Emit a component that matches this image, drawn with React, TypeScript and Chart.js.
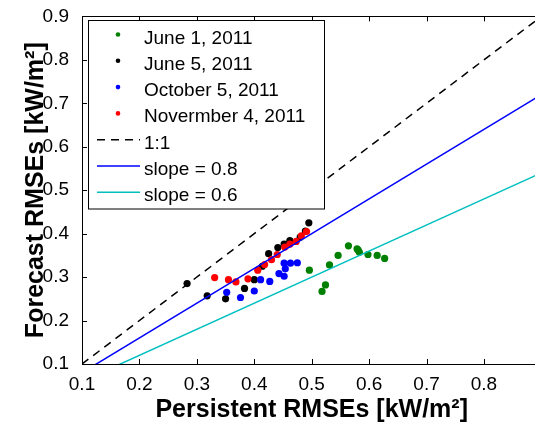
import { useEffect, useRef } from 'react';
import { Chart, registerables } from 'chart.js';

Chart.register(...registerables);

// ---- data ----
const seriesLabels = ['June 1, 2011', 'June 5, 2011', 'October 5, 2011', 'Novermber 4, 2011'];
const seriesColors = ['#008000', '#000000', '#0000ff', '#ff0000'];

const june1X = [0.455, 0.496, 0.518, 0.524, 0.531, 0.546, 0.564, 0.579, 0.581, 0.583, 0.598, 0.614, 0.627];
const june1Y = [0.375, 0.316, 0.267, 0.282, 0.328, 0.350, 0.372, 0.365, 0.362, 0.357, 0.352, 0.350, 0.343];

const june5X = [0.283, 0.318, 0.350, 0.383, 0.400, 0.414, 0.425, 0.441, 0.452, 0.462, 0.480, 0.489, 0.495];
const june5Y = [0.285, 0.257, 0.250, 0.274, 0.294, 0.325, 0.354, 0.368, 0.376, 0.384, 0.392, 0.406, 0.425];

const oct5X = [0.352, 0.376, 0.400, 0.411, 0.427, 0.443, 0.452, 0.454, 0.452, 0.463, 0.475];
const oct5Y = [0.265, 0.253, 0.268, 0.294, 0.290, 0.308, 0.302, 0.319, 0.332, 0.332, 0.333];

const nov4X = [0.331, 0.355, 0.368, 0.389, 0.406, 0.418, 0.430, 0.440, 0.453, 0.462, 0.473, 0.482, 0.491];
const nov4Y = [0.299, 0.294, 0.289, 0.296, 0.316, 0.329, 0.340, 0.352, 0.369, 0.376, 0.382, 0.395, 0.405];

const refLineLabels = ['1:1', 'slope = 0.8', 'slope = 0.6'];
const refLineSlopes = [1, 0.8, 0.6];
const refLineColors = ['#000000', '#0000ff', '#00bfbf'];

const axisMin = 0.1;
const axisMax = 0.9;
const xTickValues = [0.1, 0.2, 0.3, 0.4, 0.5, 0.6, 0.7, 0.8];
const yTickValues = [0.1, 0.2, 0.3, 0.4, 0.5, 0.6, 0.7, 0.8, 0.9];

const xTitle = 'Persistent RMSEs [kW/m²]';
const yTitle = 'Forecast RMSEs [kW/m²]';

const FONT = "'Liberation Sans', Arial, Helvetica, sans-serif";

const toPoints = (xs: number[], ys: number[]) => xs.map((x, i) => ({ x, y: ys[i] }));

const overlayPlugin = {
  id: 'matlabOverlay',
  afterDraw(chart: any) {
    const { ctx, chartArea, scales } = chart;
    const { left, right, top, bottom } = chartArea;
    ctx.save();
    ctx.strokeStyle = '#000';
    ctx.lineWidth = 1;
    // top border
    ctx.beginPath();
    ctx.moveTo(left, Math.round(top) + 0.5);
    ctx.lineTo(right, Math.round(top) + 0.5);
    ctx.stroke();
    // inward ticks
    const tl = 5;
    ctx.beginPath();
    xTickValues.forEach((v) => {
      const px = Math.round(scales.x.getPixelForValue(v)) + 0.5;
      ctx.moveTo(px, bottom);
      ctx.lineTo(px, bottom - tl);
      ctx.moveTo(px, top);
      ctx.lineTo(px, top + tl);
    });
    yTickValues.forEach((v) => {
      const py = Math.round(scales.y.getPixelForValue(v)) + 0.5;
      ctx.moveTo(left, py);
      ctx.lineTo(left + tl, py);
    });
    ctx.stroke();

    // legend box
    const bx = 88.5, by = 20.5, bw = 236, bh = 188.5;
    ctx.fillStyle = '#fff';
    ctx.fillRect(bx, by, bw, bh);
    ctx.strokeRect(bx, by, bw, bh);
    const ds = chart.data.datasets;
    ctx.font = `19px ${FONT}`;
    ctx.textBaseline = 'alphabetic';
    ctx.textAlign = 'left';
    ds.forEach((d: any, i: number) => {
      const base = 43.5 + 26.3 * i;
      const my = base - 9;
      if (d.legendKind === 'marker') {
        ctx.fillStyle = d.backgroundColor;
        ctx.beginPath();
        ctx.arc(118, my, 2.3, 0, Math.PI * 2);
        ctx.fill();
      } else {
        ctx.strokeStyle = d.borderColor;
        ctx.lineWidth = 1.5;
        ctx.setLineDash(d.borderDash || []);
        ctx.beginPath();
        ctx.moveTo(97, my);
        ctx.lineTo(140, my);
        ctx.stroke();
        ctx.setLineDash([]);
      }
      ctx.fillStyle = '#000';
      ctx.fillText(d.label, 144, base);
    });
    ctx.restore();
  },
};

export default function App() {
  const ref = useRef<HTMLCanvasElement | null>(null);

  useEffect(() => {
    document.body.style.margin = '0';
    if (!ref.current) return;
    const seriesX = [june1X, june5X, oct5X, nov4X];
    const seriesY = [june1Y, june5Y, oct5Y, nov4Y];
    const scatterSets = seriesLabels.map((label, i) => ({
      type: 'scatter' as const,
      label,
      legendKind: 'marker',
      data: toPoints(seriesX[i], seriesY[i]),
      backgroundColor: seriesColors[i],
      borderColor: seriesColors[i],
      borderWidth: 0,
      pointRadius: 3.6,
      order: 10 - i,
    }));
    const lineSets = refLineLabels.map((label, i) => ({
      type: 'line' as const,
      label,
      legendKind: 'line',
      data: [axisMin, axisMax].map((x) => ({ x, y: x * refLineSlopes[i] })),
      borderColor: refLineColors[i],
      backgroundColor: refLineColors[i],
      borderWidth: 1.5,
      borderDash: i === 0 ? [8, 6] : [],
      pointRadius: 0,
      fill: false,
      tension: 0,
      order: 3 - i,
    }));

    const axisCommon = (title: string, ticks: number[], tickPad: number, titlePad: any, fit: (s: any) => void) => ({
      type: 'linear' as const,
      min: axisMin,
      max: axisMax,
      afterBuildTicks: (s: any) => {
        s.ticks = ticks.map((v) => ({ value: v }));
      },
      afterFit: fit,
      grid: { display: false },
      border: { display: true, color: '#000', width: 1 },
      ticks: {
        color: '#000',
        font: { family: FONT, size: 19 },
        padding: tickPad,
        autoSkip: false,
        maxRotation: 0,
        callback: (v: any) => Number(v).toFixed(1),
      },
      title: {
        display: true,
        text: title,
        color: '#000',
        font: { family: FONT, size: 25, weight: 'bold' as const },
        padding: titlePad,
      },
    });

    const chart = new Chart(ref.current, {
      type: 'scatter',
      data: { datasets: [...scatterSets, ...lineSets] as any },
      options: {
        responsive: false,
        animation: false,
        events: [],
        layout: { padding: { left: 0, top: 15, right: 28.6, bottom: 0 } },
        plugins: { legend: { display: false }, tooltip: { enabled: false } },
        scales: {
          x: { ...axisCommon(xTitle, xTickValues, 1, { top: 0, bottom: 3 }, (s: any) => { s.height = 64; }), position: 'bottom' },
          y: { ...axisCommon(yTitle, yTickValues, 5, { top: 21, bottom: 0 }, (s: any) => { s.width = 82; }), position: 'left' },
        },
      } as any,
      plugins: [overlayPlugin],
    });
    return () => chart.destroy();
  }, []);

  return (
    <div style={{ width: 535, height: 428, overflow: 'hidden', position: 'relative', background: '#fff' }}>
      <canvas ref={ref} width={570} height={428} style={{ width: 570, height: 428, display: 'block' }} />
    </div>
  );
}
